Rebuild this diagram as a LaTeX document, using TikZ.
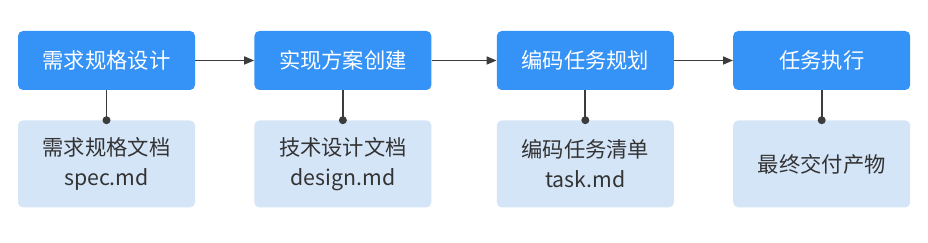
\documentclass[tikz,border=0pt]{standalone}
\usepackage{fontspec}
\setmainfont{Noto Sans CJK SC}
\usetikzlibrary{positioning,arrows.meta}
\definecolor{stageblue}{HTML}{3592F6}
\definecolor{docblue}{HTML}{D5E5F8}
\definecolor{inkgray}{HTML}{333333}
\definecolor{linegray}{HTML}{3C3C3C}

\begin{document}
\begin{tikzpicture}[x=1pt,y=-1pt]
  \useasboundingbox[fill=white] (0,0) rectangle (928,243);
  \tikzset{
    stage/.style={rectangle,rounded corners=5pt,fill=stageblue,text=white,minimum width=177pt,minimum height=59pt,font=\fontsize{21.3}{25}\selectfont},
    doc/.style={rectangle,rounded corners=5pt,fill=docblue,text=inkgray,minimum width=177pt,minimum height=87pt,align=center,font=\fontsize{21.3}{30}\selectfont},
    flow/.style={draw=linegray,line width=1.6pt,-{Triangle[length=10pt,width=8pt]}},
    link/.style={draw=linegray,line width=1.8pt}
  }
  \node[stage] (req) at (106.5,60.5) {需求规格设计};
  \node[stage,right=59pt of req] (design) {实现方案创建};
  \node[stage,right=65pt of design] (task) {编码任务规划};
  \node[stage,right=59pt of task] (exec) {任务执行};
  \node[doc,below=30pt of req] (reqdoc) {需求规格文档\\spec.md};
  \node[doc,below=30pt of design] (designdoc) {技术设计文档\\design.md};
  \node[doc,below=30pt of task] (taskdoc) {编码任务清单\\task.md};
  \node[doc,below=30pt of exec] (result) {最终交付产物};
  \draw[flow] (req) -- (design);
  \draw[flow] (design) -- (task);
  \draw[flow] (task) -- (exec);
  \foreach \a/\b in {req/reqdoc,design/designdoc,task/taskdoc,exec/result} {
    \draw[link] (\a.south) -- (\b.north);
    \fill[linegray] (\b.north) circle (4pt);
  }
\end{tikzpicture}
\end{document}
